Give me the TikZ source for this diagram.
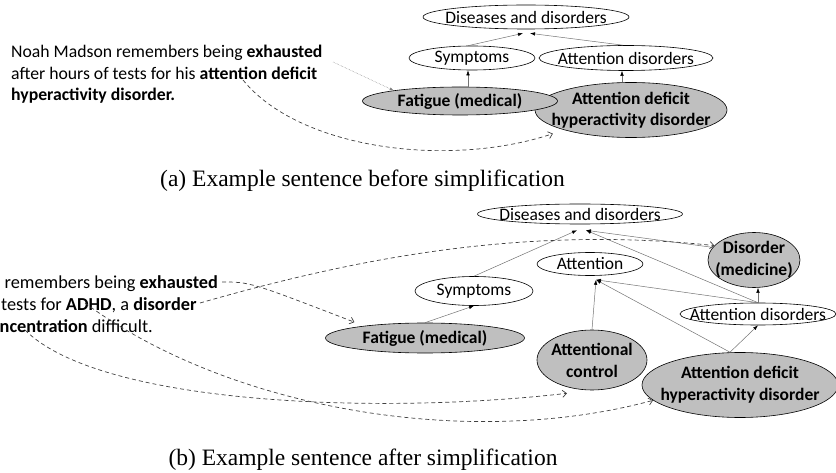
\documentclass[tikz,border=0pt]{standalone}
\usepackage{fontspec}
\setmainfont{Carlito}
\newfontfamily\capfont{Liberation Serif}
\usetikzlibrary{shapes.geometric,arrows.meta}
\begin{document}
\begin{tikzpicture}[x=1pt,y=-1pt,
  every node/.style={font=\fontsize{17.5}{21}\selectfont},
  cat/.style={ellipse,draw,line width=0.6pt,fill=white,inner sep=0pt},
  ent/.style={cat,fill=gray!50},
  entlab/.style={font=\fontsize{17.5}{21.5}\selectfont\bfseries,align=center},
  link/.style={draw=black!55,line width=0.5pt,-{Latex[length=5pt,width=3.5pt,color=black]}},
  ment/.style={draw=black!75,line width=0.7pt,dash pattern=on 4pt off 3pt,-{Straight Barb[length=4pt,width=7pt]}},
  hint/.style={draw=gray,line width=0.5pt,densely dotted,-{Latex[length=4pt,width=3pt]}},
  sentence/.style={anchor=north west,inner sep=0pt,align=left,font=\fontsize{17.7}{21.5}\selectfont},
  caption/.style={font=\capfont\fontsize{23.5}{28}\selectfont,anchor=base}]
  \useasboundingbox (0,0) rectangle (836,473);

  % (a) before simplification
  \node[sentence] (sentA) at (11,45)
    {Noah Madson remembers being \textbf{exhausted}\\
     after hours of tests for his \textbf{attention deficit}\\
     \textbf{hyperactivity disorder.}};
  \coordinate (exhA) at (333,62);
  \coordinate (attnA) at (243,80);
  \node[cat,minimum width=206pt,minimum height=24pt,label=center:Diseases and disorders] (disA) at (526,17) {};
  \node[cat,minimum width=126pt,minimum height=24pt,label=center:Symptoms] (symA) at (472,58) {};
  \node[cat,minimum width=174pt,minimum height=25pt,label=center:Attention disorders] (attdisA) at (626,58) {};
  \node[ent,minimum width=192pt,minimum height=55pt,label={[entlab]center:Attention deficit\\hyperactivity disorder}] (adhdA) at (631,110) {};
  \node[ent,minimum width=195pt,minimum height=28pt,label={[entlab]center:Fatigue (medical)}] (fatA) at (460,101) {};
  \draw[link] ([xshift=-4pt]symA.north) -- ([xshift=-3pt,yshift=-4pt]disA.south);
  \draw[link] ([xshift=-3pt]attdisA.north) -- ([xshift=4pt,yshift=-4pt]disA.south);
  \draw[link] ([xshift=8pt]fatA.north) -- ([xshift=-4pt]symA.south);
  \draw[link] ([xshift=-9pt]adhdA.north) -- ([xshift=-4pt]attdisA.south);
  \draw[hint] (exhA) -- (fatA.171);
  \draw[ment] (attnA) .. controls (300,150) and (450,168) .. ([xshift=-10pt,yshift=-4pt]adhdA.south west);
  \node[caption] (capA) at (362.5,187) {(a) Example sentence before simplification};

  % (b) after simplification
  \node[sentence,font=\fontsize{18.3}{22}\selectfont] (sentB) at (-104,275)
    {Noah Madson remembers being \textbf{exhausted}\\
     after hours of tests for \textbf{ADHD}, a \textbf{disorder}\\
     that makes \textbf{concentration} difficult.};
  \coordinate (exhB) at (222,282);
  \coordinate (disoB) at (200,303);
  \coordinate (adhdW) at (85,303);
  \coordinate (concB) at (25,330);
  \node[cat,minimum width=205pt,minimum height=20pt,label=center:Diseases and disorders] (disB) at (580,214) {};
  \node[cat,minimum width=106pt,minimum height=23pt,label=center:Attention] (attB) at (590,264) {};
  \node[cat,minimum width=118pt,minimum height=29pt,label=center:Symptoms] (symB) at (474,291) {};
  \node[cat,minimum width=156pt,minimum height=22pt,label=center:Attention disorders] (attdisB) at (758,314) {};
  \node[ent,minimum width=199pt,minimum height=30pt,label={[entlab]center:Fatigue (medical)}] (fatB) at (425,338) {};
  \node[ent,minimum width=110pt,minimum height=60pt,label={[entlab,font=\fontsize{17.5}{22}\selectfont\bfseries]center:Attentional\\control}] (actB) at (592,360) {};
  \node[ent,minimum width=92pt,minimum height=55pt,label={[entlab,font=\fontsize{17.5}{22}\selectfont\bfseries]center:Disorder\\(medicine)}] (dmB) at (754,260) {};
  \node[ent,minimum width=196pt,minimum height=65pt,label={[entlab,font=\fontsize{17.5}{22}\selectfont\bfseries]center:Attention deficit\\hyperactivity disorder}] (adhdB) at (740,385) {};
  \coordinate (disBl) at ([xshift=-3pt,yshift=-6pt]disB.south);
  \coordinate (disBr) at ([xshift=6pt,yshift=-6pt]disB.south);
  \coordinate (attBin) at ([xshift=6pt,yshift=-4pt]attB.south);
  \draw[link] (symB.north) -- (disBl);
  \draw[link] (attdisB.north) -- (disBr);
  \draw[link] (dmB.163) -- (disBr);
  \draw[link] (fatB.north) -- (symB.south);
  \draw[link] (actB.north) -- (attBin);
  \draw[link] ([xshift=-10pt]adhdB.north) -- (attBin);
  \draw[link] ([xshift=-10pt]adhdB.north) -- (attdisB.south);
  \draw[link] (attdisB.north) -- (attBin);
  \draw[link] (attdisB.north) -- (attdisB.north |- dmB.south);
  \draw[ment] (exhB) .. controls (250,282) .. ([yshift=5pt]fatB.north west);
  \draw[ment] (disoB) .. controls (350,260) and (520,225) .. (dmB.160);
  \draw[ment] (adhdW) .. controls (230,410) and (470,450) .. (adhdB.190);
  \draw[ment] (concB) .. controls (100,405) and (380,415) .. ([xshift=-25pt,yshift=-3pt]actB.south);
  \node[caption] (capB) at (363,465) {(b) Example sentence after simplification};
\end{tikzpicture}
\end{document}
